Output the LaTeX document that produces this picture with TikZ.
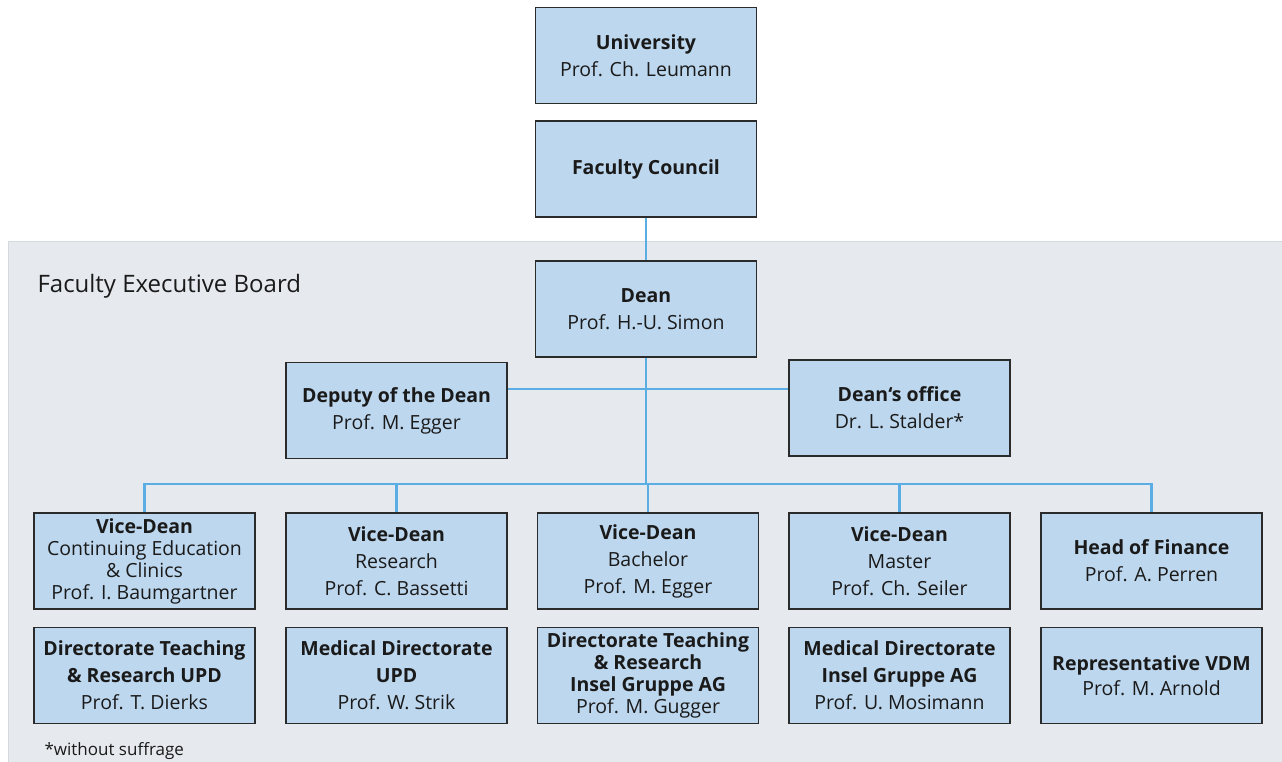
\documentclass[tikz,border=0pt]{standalone}
\usepackage{fontspec}
\setmainfont{Open Sans}
\definecolor{boxfill}{HTML}{BDD7EE}
\definecolor{boxline}{HTML}{2B2B2B}
\definecolor{conn}{HTML}{5AAEE3}
\definecolor{panel}{HTML}{E6E9EE}
\definecolor{panelline}{HTML}{D6D9DE}
\definecolor{txt}{HTML}{1A1A1A}
\tikzset{
  orgbox/.style={draw=boxline, fill=boxfill, line width=1.2pt, minimum width=221pt, minimum height=96pt,
    inner sep=0pt, align=center, text=txt, font=\fontsize{19.5}{27}\selectfont},
  tight/.style={font=\fontsize{19.5}{22}\selectfont},
  connector/.style={draw=conn, line width=2.6pt},
}
\begin{document}
\begin{tikzpicture}[x=1pt,y=-1pt]
\useasboundingbox (0,0) rectangle (1282,762);
\fill[white] (0,0) rectangle (1282,762);
\filldraw[fill=panel, draw=panelline, line width=1pt] (1290,241) -- (8,241) -- (8,770) -- (1290,770);
\node[anchor=base west, font=\fontsize{24}{28}\selectfont, text=txt] (feb) at (34,292) {Faculty Executive Board};
\node[anchor=base west, font=\fontsize{17}{20}\selectfont, text=txt] (note) at (41,755) {*without suffrage};

\node[orgbox] (uni) at (646,55.5) {\textbf{University}\\Prof. Ch. Leumann};
\node[orgbox] (fc) at (646,169) {\textbf{Faculty Council}};
\node[orgbox] (dean) at (646,309) {\textbf{Dean}\\Prof. H.-U. Simon};
\node[orgbox] (dep) at (396.5,410.5) {\textbf{Deputy of the Dean}\\Prof. M. Egger};
\node[orgbox] (off) at (899.5,408) {\textbf{Dean‘s office}\\Dr. L. Stalder*};

\node[orgbox, tight] (v1) at (144.5,561) {\textbf{Vice-Dean}\\Continuing Education\\\& Clinics\\Prof. I. Baumgartner};
\node[orgbox] (v2) at (396.5,561) {\textbf{Vice-Dean}\\Research\\Prof. C. Bassetti};
\node[orgbox] (v3) at (648,561) {\textbf{Vice-Dean}\\Bachelor\\Prof. M. Egger};
\node[orgbox] (v4) at (899.5,561) {\textbf{Vice-Dean}\\Master\\Prof. Ch. Seiler};
\node[orgbox] (v5) at (1151.5,561) {\textbf{Head of Finance}\\Prof. A. Perren};

\node[orgbox] (d1) at (144.5,675.5) {\textbf{Directorate Teaching}\\\textbf{\& Research UPD}\\Prof. T. Dierks};
\node[orgbox] (d2) at (396.5,675.5) {\textbf{Medical Directorate}\\\textbf{UPD}\\Prof. W. Strik};
\node[orgbox, tight] (d3) at (648,675.5) {\textbf{Directorate Teaching}\\\textbf{\& Research}\\\textbf{Insel Gruppe AG}\\Prof. M. Gugger};
\node[orgbox] (d4) at (899.5,675.5) {\textbf{Medical Directorate}\\\textbf{Insel Gruppe AG}\\Prof. U. Mosimann};
\node[orgbox, font=\fontsize{19.5}{25}\selectfont] (d5) at (1151.5,675.5) {\textbf{Representative VDM}\\Prof. M. Arnold};

\coordinate (hub) at (dean.south |- 0,389);
\coordinate (bar) at (dean.south |- 0,484);
\draw[connector] (fc.south) -- (dean.north);
\draw[connector] (dean.south) -- (bar);
\draw[connector] (dep.east |- hub) -- (off.west |- hub);
\draw[connector] (v1.north) |- (bar) -| (v5.north);
\draw[connector] (v2.north) -- (v2.north |- bar);
\draw[connector] (v4.north) -- (v4.north |- bar);
\draw[connector] (v3.north) -- (v3.north |- bar);
\end{tikzpicture}
\end{document}
